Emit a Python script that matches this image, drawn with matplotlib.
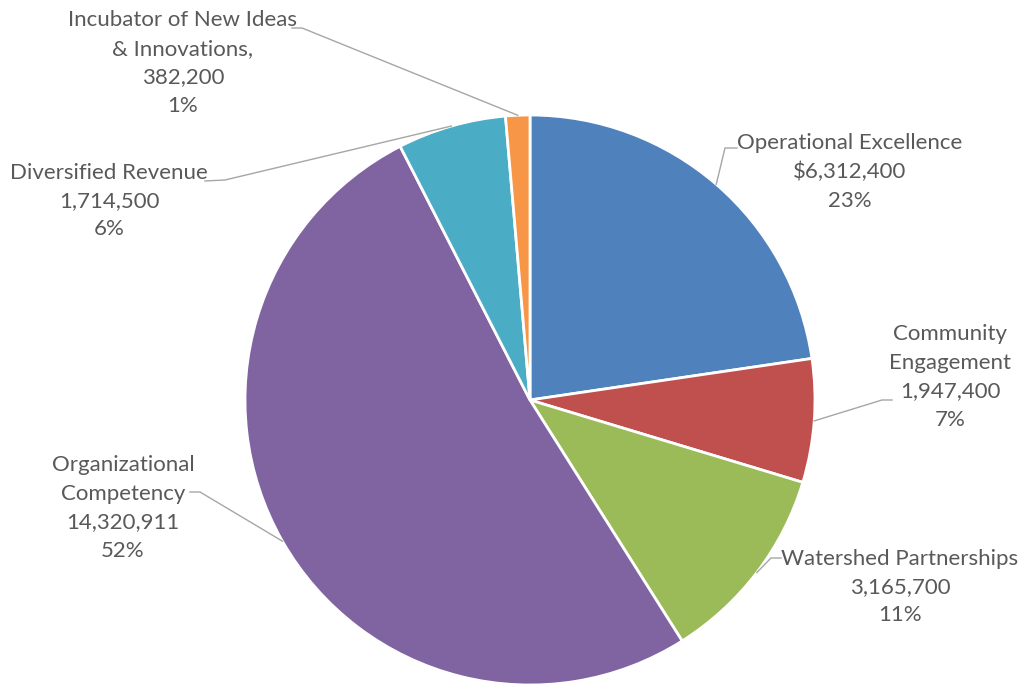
import numpy as np
import matplotlib
matplotlib.use("Agg")
from matplotlib import pyplot as plt

plt.rcParams['font.family'] = ['Lato', 'DejaVu Sans']

categories = ['Operational Excellence', 'Community\nEngagement', 'Watershed Partnerships',
              'Organizational\nCompetency', 'Diversified Revenue',
              'Incubator of New Ideas\n& Innovations,']
values = [6312400, 1947400, 3165700, 14320911, 1714500, 382200]
value_labels = ['$6,312,400', '1,947,400', '3,165,700', '14,320,911', '1,714,500', '382,200']
pct_labels = ['23%', '7%', '11%', '52%', '6%', '1%']
colors = ['#4F81BD', '#C0504D', '#9BBB59', '#8064A2', '#4BACC6', '#F79646']

W, H = 1024, 686
cx, cy, r = 530, H - 400, 285

# label layout in pixel coords (from top): text centre, line end next to text, elbow
text_pos = [(850, 172), (950, 377), (900, 587), (123, 508), (109, 201), (183, 63)]
line_end = [(737, 148), (892, 400), (781, 558), (190, 492), (205, 181), (292, 28)]
elbow = [(725, 148), (882, 400), (771, 558), (200, 492), (225, 180), (302, 28)]

fig = plt.figure(figsize=(10.24, 6.86), dpi=100)
ax = fig.add_axes([0, 0, 1, 1])
wedges, _ = ax.pie(values, colors=colors, startangle=90, counterclock=False,
                   radius=r, center=(cx, cy),
                   wedgeprops=dict(edgecolor='white', linewidth=2))
ax.set_xlim(0, W)
ax.set_ylim(0, H)
ax.set_aspect('equal')
ax.axis('off')

for i, w in enumerate(wedges):
    mid = np.deg2rad((w.theta1 + w.theta2) / 2)
    ax_x = cx + r * np.cos(mid)
    ax_y = cy + r * np.sin(mid)
    ex, ey = elbow[i]
    lx, ly = line_end[i]
    ax.plot([ax_x, ex, lx], [ax_y, H - ey, H - ly], color='#A6A6A6', lw=1, zorder=1)
    tx, ty = text_pos[i]
    ax.text(tx, H - ty, f'{categories[i]}\n{value_labels[i]}\n{pct_labels[i]}',
            ha='center', va='center', fontsize=16, color='#595959', linespacing=1.53)

fig.savefig('out.png', dpi=100)
